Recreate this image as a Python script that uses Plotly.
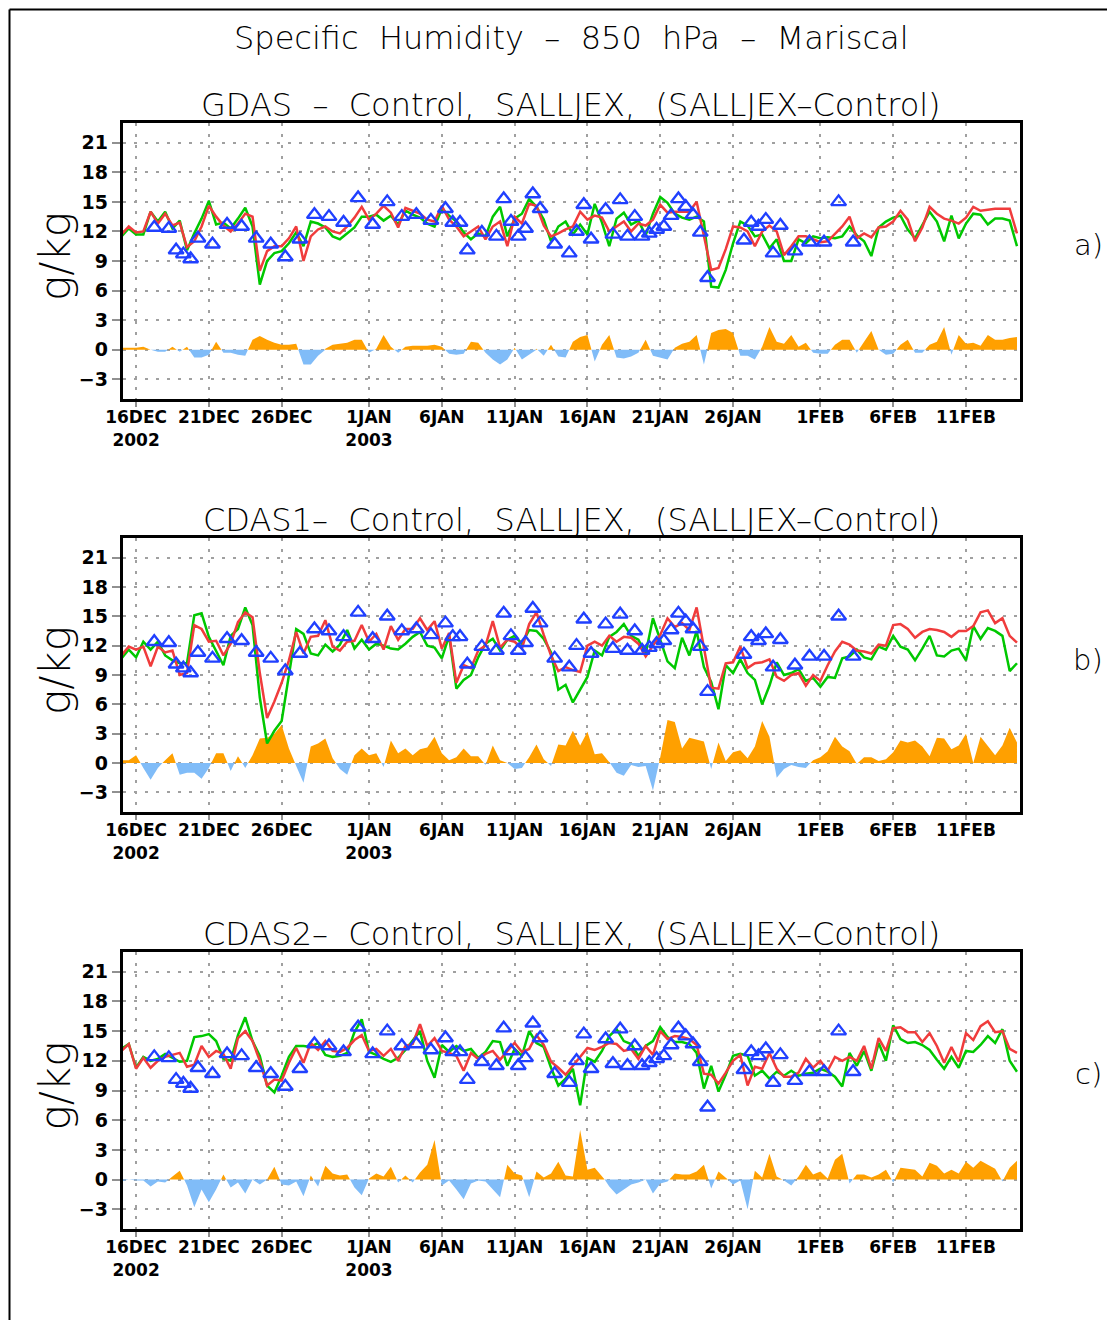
import numpy as np
import pandas as pd
import plotly.graph_objects as go

OFF = 8                      # page body margin
FW, FH = 1115 - OFF, 1328 - 2 * OFF

# ---------------- data ----------------
start = "2002-12-15 00:00"          # 12-hourly analyses
n_times = 124

# GDAS
gdas_salljex = [11.7, 12.5, 11.9, 12.0, 14.0, 12.8, 13.8, 12.6, 12.9, 10.4, 11.0, 12.5, 14.6, 13.5, 12.6, 12.0, 12.8, 13.8, 13.5, 8.0, 10.0, 10.5, 10.5, 11.3, 12.5, 9.0, 11.5, 12.2, 12.5, 12.0, 11.8, 12.5, 13.4, 14.5, 13.2, 13.8, 14.6, 13.9, 12.4, 14.4, 14.1, 13.8, 13.2,
                13.0, 14.6, 13.2, 12.5, 11.5, 12.0, 12.5, 11.2, 12.5, 13.0, 10.5, 13.5, 12.8, 14.8, 14.6, 12.6, 11.5, 11.8, 12.2, 12.5, 14.0, 13.2, 13.6, 13.4, 12.0, 12.5, 13.0, 12.0, 12.8, 12.6, 13.2, 14.7, 13.9, 14.0, 14.0, 14.0, 15.0, 11.5, 8.1, 8.3, 10.2,
                12.5, 12.4, 12.0, 10.5, 12.0, 12.6, 12.0, 9.6, 10.5, 11.5, 11.5, 11.2, 10.9, 11.0, 11.8, 12.5, 13.5, 11.3, 11.8, 11.4, 12.4, 12.5, 13.0, 14.1, 13.2, 11.0, 12.4, 14.5, 13.8, 13.3, 13.1, 12.8, 13.4, 14.5, 14.1, 14.2, 14.3, 14.3, 14.3, 11.8]
gdas_control = [11.5, 12.3, 11.7, 11.7, 14.0, 13.0, 14.0, 12.3, 13.1, 10.1, 11.8, 13.3, 15.1, 12.7, 12.9, 12.3, 13.3, 14.4, 12.5, 6.6, 9.0, 9.8, 10.0, 10.8, 11.9, 10.5, 13.0, 12.8, 12.4, 11.5, 11.2, 11.8, 12.4, 13.5, 13.5, 13.7, 13.1, 13.6, 12.7, 14.1, 13.7, 13.4, 12.8,
                12.5, 14.3, 13.6, 13.0, 11.9, 11.2, 11.8, 11.5, 13.5, 14.5, 11.5, 13.3, 13.8, 15.3, 14.5, 13.2, 11.0, 12.5, 13.0, 11.7, 12.7, 11.7, 14.8, 12.9, 10.5, 13.3, 13.9, 12.7, 13.1, 11.6, 13.8, 15.5, 14.9, 13.8, 13.4, 13.2, 13.5, 13.0, 6.4, 6.3, 8.1,
                10.8, 13.0, 12.6, 11.5, 11.7, 10.3, 11.2, 9.0, 9.0, 11.2, 10.8, 11.5, 11.3, 11.4, 11.3, 11.5, 12.5, 11.6, 11.0, 9.5, 12.4, 13.0, 13.4, 13.6, 12.2, 11.3, 12.7, 14.0, 13.0, 11.0, 13.6, 11.3, 12.8, 13.8, 13.7, 12.7, 13.3, 13.3, 13.1, 10.5]

# CDAS1
cdas1_salljex = [11.0, 11.9, 11.6, 11.9, 9.9, 11.9, 11.3, 11.5, 9.0, 9.2, 14.1, 13.7, 12.4, 12.5, 11.0, 12.2, 14.4, 15.4, 14.9, 9.2, 4.6, 6.3, 8.2, 10.5, 13.4, 11.2, 12.9, 13.0, 14.6, 11.9, 11.5, 12.4, 12.5, 14.1, 12.4, 13.2, 11.6, 14.0, 12.6, 13.7, 13.7, 14.8, 13.6,
                 14.5, 11.7, 13.3, 8.2, 10.0, 9.7, 11.5, 12.0, 14.5, 11.8, 12.6, 12.4, 11.7, 14.2, 15.4, 13.1, 11.0, 9.4, 9.8, 9.5, 9.3, 12.0, 12.4, 12.0, 13.0, 12.4, 12.9, 12.8, 12.2, 10.9, 12.0, 13.1, 14.8, 13.9, 14.3, 13.6, 15.9, 12.0, 7.7, 7.6, 10.2,
                 10.3, 11.9, 9.7, 10.2, 10.3, 10.6, 8.8, 8.4, 9.0, 9.2, 7.9, 9.0, 8.4, 10.0, 11.4, 12.4, 12.1, 11.5, 11.4, 11.2, 12.1, 12.0, 14.1, 14.2, 13.7, 12.8, 13.4, 13.7, 13.6, 13.4, 12.9, 13.5, 13.5, 14.0, 15.4, 15.6, 14.3, 14.8, 13.0, 12.3]
cdas1_control = [10.7, 11.6, 10.8, 12.4, 11.6, 12.4, 11.0, 10.5, 10.2, 10.2, 15.1, 15.3, 12.9, 11.5, 10.0, 13.0, 13.7, 15.9, 14.1, 6.7, 2.0, 3.3, 4.3, 9.0, 13.7, 13.2, 11.2, 11.0, 12.1, 11.4, 12.1, 13.6, 11.7, 12.6, 11.6, 12.2, 12.0, 11.7, 11.6, 12.2, 12.9, 13.4, 12.0,
                 11.8, 10.7, 13.0, 7.6, 8.5, 9.0, 10.8, 12.2, 12.7, 11.5, 12.6, 13.0, 12.2, 13.6, 13.5, 12.7, 11.3, 7.5, 8.0, 6.2, 7.5, 8.8, 11.5, 11.0, 12.9, 13.4, 14.2, 13.0, 12.6, 11.2, 14.8, 12.5, 10.4, 9.7, 12.8, 11.0, 13.5, 9.8, 8.3, 5.5, 10.0,
                 9.2, 10.6, 9.2, 8.5, 6.0, 7.9, 10.3, 9.0, 9.2, 9.6, 8.4, 8.7, 7.8, 8.8, 8.7, 10.7, 10.9, 11.6, 10.8, 10.6, 11.9, 11.6, 13.0, 11.9, 11.6, 10.5, 11.7, 13.0, 11.0, 10.9, 11.5, 11.7, 10.5, 14.0, 12.7, 13.8, 13.5, 13.0, 9.4, 10.2]

# CDAS2
cdas2_salljex = [13.0, 13.7, 11.2, 12.3, 11.3, 12.0, 12.4, 12.6, 12.8, 11.4, 11.6, 13.5, 12.4, 13.0, 12.7, 11.2, 14.3, 15.0, 14.0, 12.0, 9.5, 10.1, 10.0, 11.8, 13.3, 11.8, 13.8, 13.1, 14.0, 13.0, 12.9, 13.3, 14.1, 14.6, 13.0, 13.2, 12.5, 13.2, 12.0, 13.5, 13.7, 15.7, 13.5,
                 14.3, 13.0, 12.8, 12.5, 11.0, 12.8, 12.2, 12.7, 13.0, 12.1, 13.0, 13.8, 12.9, 13.2, 14.6, 13.6, 11.9, 11.3, 10.6, 11.5, 12.5, 13.3, 13.1, 13.4, 13.8, 13.7, 13.0, 13.2, 12.2, 13.5, 12.6, 15.0, 14.2, 14.5, 14.4, 14.2, 13.6, 10.7, 10.6, 9.7, 10.8,
                 12.0, 12.6, 9.5, 11.4, 11.2, 12.8, 11.2, 10.4, 10.4, 10.8, 12.2, 11.3, 12.0, 11.0, 12.4, 12.0, 12.4, 12.0, 13.5, 11.2, 14.3, 13.0, 15.3, 15.4, 14.9, 14.9, 13.9, 14.8, 13.5, 11.8, 13.4, 11.9, 14.8, 14.1, 15.5, 16.0, 14.9, 15.0, 13.2, 12.8]
cdas2_control = [13.2, 13.7, 11.3, 12.4, 12.0, 12.2, 12.7, 12.3, 11.9, 12.0, 14.4, 14.5, 14.7, 14.0, 12.2, 12.0, 14.6, 16.4, 14.0, 12.5, 9.5, 8.8, 10.5, 12.4, 13.5, 13.5, 13.4, 13.8, 12.6, 12.4, 12.5, 12.8, 14.9, 16.2, 12.9, 12.6, 12.2, 11.9, 12.3, 13.1, 14.0, 15.0, 12.0,
                 10.3, 13.6, 12.9, 13.5, 13.0, 13.2, 12.3, 12.9, 14.0, 13.9, 11.5, 13.2, 12.5, 15.0, 13.8, 13.4, 11.3, 9.5, 10.2, 11.2, 7.5, 12.3, 11.9, 13.0, 14.5, 15.2, 14.0, 13.7, 12.5, 13.5, 14.0, 15.4, 14.4, 13.9, 13.9, 13.7, 12.8, 9.2, 11.5, 8.9, 10.6,
                 12.5, 12.7, 12.5, 10.5, 11.0, 10.2, 10.9, 10.5, 11.0, 10.5, 10.7, 10.8, 11.2, 10.9, 10.4, 9.4, 12.8, 11.5, 13.0, 11.0, 13.8, 12.0, 15.6, 14.2, 13.8, 13.9, 13.6, 13.1, 12.1, 11.2, 12.4, 11.3, 13.0, 12.9, 13.6, 14.5, 13.8, 15.2, 12.0, 10.9]

# SALLJEX soundings at Mariscal (days after 16 Dec 2002 00Z)
obs_days = [1.25, 2.25, 2.75, 3.25, 3.75, 4.25, 5.25, 6.25, 7.25, 8.25, 9.25, 10.25, 11.25, 12.25, 13.25,
            14.25, 15.25, 16.25, 17.25, 18.25, 19.25, 20.25, 21.25, 21.75, 22.25, 22.75, 23.75, 24.75, 25.25, 25.75,
            26.25, 26.75, 27.25, 27.75, 28.75, 29.75, 30.25, 30.75, 31.25, 32.25, 32.75, 33.25, 33.75, 34.25, 34.75,
            35.25, 35.75, 36.25, 36.75, 37.25, 37.75, 38.25, 38.75, 39.25, 41.75, 42.25, 42.75, 43.25, 43.75, 44.25,
            45.25, 46.25, 47.25, 48.25, 49.25]
obs_q = [12.4, 12.3, 10.1, 9.7, 9.2, 11.3, 10.7, 12.7, 12.5, 11.3, 10.7, 9.4, 11.2, 13.7, 13.5,
         12.9, 15.4, 12.7, 15.0, 13.5, 13.7, 13.1, 14.3, 12.9, 12.9, 10.1, 11.9, 11.5, 15.3, 13.0,
         11.5, 12.3, 15.8, 14.3, 10.7, 9.8, 12.0, 14.7, 11.2, 14.2, 11.7, 15.2, 11.5, 13.5, 11.5,
         11.8, 12.2, 12.5, 13.6, 15.3, 14.5, 13.7, 11.9, 7.3, 11.1, 12.9, 12.5, 13.2, 9.8, 12.6,
         10.0, 10.9, 10.9, 15.0, 10.9]

tick_dates = ["2002-12-16", "2002-12-21", "2002-12-26", "2003-01-01", "2003-01-06", "2003-01-11",
              "2003-01-16", "2003-01-21", "2003-01-26", "2003-02-01", "2003-02-06", "2003-02-11"]
tick_text = ["16DEC<br>2002", "21DEC", "26DEC", "1JAN<br>2003", "6JAN", "11JAN",
             "16JAN", "21JAN", "26JAN", "1FEB", "6FEB", "11FEB"]
y_ticks = [-3, 0, 3, 6, 9, 12, 15, 18, 21]

panels = [
    ("GDAS  –  Control,  SALLJEX,  (SALLJEX–Control)", gdas_control, gdas_salljex, "a)"),
    ("CDAS1–  Control,  SALLJEX,  (SALLJEX–Control)", cdas1_control, cdas1_salljex, "b)"),
    ("CDAS2–  Control,  SALLJEX,  (SALLJEX–Control)", cdas2_control, cdas2_salljex, "c)"),
]

# ---------------- helpers ----------------
times = pd.date_range(start, periods=n_times, freq="12h")
t0 = pd.Timestamp(start)
hours = np.array([(t - t0) / pd.Timedelta(hours=1) for t in times])
obs_times = pd.Timestamp("2002-12-16") + pd.to_timedelta(obs_days, unit="D")


def split_diff(h, d):
    xs, ds = [], []
    for i in range(len(d)):
        if i > 0 and d[i - 1] * d[i] < 0:
            f = d[i - 1] / (d[i - 1] - d[i])
            xs.append(h[i - 1] + f * (h[i] - h[i - 1]))
            ds.append(0.0)
        xs.append(h[i])
        ds.append(d[i])
    xs = np.array(xs)
    ds = np.array(ds)
    xt = t0 + pd.to_timedelta(xs, unit="h")
    return xt, np.where(ds > 0, ds, 0.0), np.where(ds < 0, ds, 0.0)


def px(x):
    return (x - OFF) / FW


def py(y):
    return 1 - (y - OFF) / FH


boxes = [(123, 399), (538, 812), (952, 1229)]
x_dom = [px(122.7), px(1020)]

fig = go.Figure()
FONT = "DejaVu Sans"
grid_col = "#a0a0a0"

for k, (title, ctrl, sal, lab) in enumerate(panels):
    sfx = "" if k == 0 else str(k + 1)
    xa, ya = "x" + sfx, "y" + sfx
    d = np.array(sal) - np.array(ctrl)
    xt, pos, neg = split_diff(hours, d)
    fig.add_trace(go.Scatter(x=xt, y=pos, xaxis=xa, yaxis=ya, mode="lines", line=dict(width=0, color="#ffa000"),
                             fill="tozeroy", fillcolor="#ffa000", showlegend=False, hoverinfo="skip"))
    fig.add_trace(go.Scatter(x=xt, y=neg, xaxis=xa, yaxis=ya, mode="lines", line=dict(width=0, color="#80bcf8"),
                             fill="tozeroy", fillcolor="#80bcf8", showlegend=False, hoverinfo="skip"))
    fig.add_trace(go.Scatter(x=times, y=ctrl, xaxis=xa, yaxis=ya, mode="lines",
                             line=dict(color="#00c800", width=2.5), showlegend=False))
    fig.add_trace(go.Scatter(x=times, y=sal, xaxis=xa, yaxis=ya, mode="lines",
                             line=dict(color="#f03c3c", width=2.5), showlegend=False))
    fig.add_trace(go.Scatter(x=obs_times, y=obs_q, xaxis=xa, yaxis=ya, mode="markers",
                             marker=dict(symbol="triangle-up-open", size=13, color="#2040ff",
                                         line=dict(width=2.4, color="#2040ff")), showlegend=False))

    top, bot = boxes[k]
    fig.layout["xaxis" + sfx] = dict(
        domain=x_dom, anchor=ya, type="date", automargin=False,
        range=["2002-12-15 02:00", "2003-02-14 17:00"],
        tickvals=tick_dates, ticktext=tick_text, tickmode="array",
        ticks="outside", ticklen=5, tickwidth=2, tickcolor="#909090",
        ticklabelstandoff=-4,
        tickfont=dict(family=FONT, size=17, color="black", weight="bold"),
        showline=True, linecolor="black", linewidth=3, mirror=True,
        showgrid=True, gridcolor=grid_col, gridwidth=2, griddash="3px,8px",
        zeroline=False, fixedrange=True)
    fig.layout["yaxis" + sfx] = dict(
        domain=[py(bot), py(top)], anchor=xa, range=[-5, 23], automargin=False,
        tickvals=y_ticks, tickmode="array",
        ticks="outside", ticklen=8, tickwidth=2, tickcolor="#909090",
        tickfont=dict(family=FONT, size=19, color="black", weight="bold"),
        showline=True, linecolor="black", linewidth=3, mirror=True,
        showgrid=True, gridcolor=grid_col, gridwidth=2, griddash="3px,8px",
        zeroline=False, fixedrange=True)

    fig.add_annotation(text=title, x=px(571), y=py(top - 18), xref="paper", yref="paper",
                       showarrow=False, font=dict(family=FONT, size=32, color="black", weight=200),
                       xanchor="center", yanchor="middle")
    fig.add_annotation(text="g/kg", x=px(55), y=py((top + bot) / 2 - 4), xref="paper", yref="paper",
                       showarrow=False, textangle=-90, font=dict(family=FONT, size=42, color="black", weight=200),
                       xanchor="center", yanchor="middle")
    fig.add_annotation(text=lab, x=px(1088), y=py(top + 122), xref="paper", yref="paper",
                       showarrow=False, font=dict(family=FONT, size=29, color="black", weight=200),
                       xanchor="center", yanchor="middle")

fig.add_annotation(text="Specific  Humidity  –  850  hPa  –  Mariscal", x=px(571), y=py(38),
                   xref="paper", yref="paper", showarrow=False,
                   font=dict(family=FONT, size=32, color="black", weight=200), xanchor="center", yanchor="middle")

# page frame (as close to the page edge as the figure allows)
fig.add_shape(type="line", xref="paper", yref="paper", x0=px(9.5), x1=px(9.5), y0=-0.02, y1=py(9.5),
              line=dict(color="black", width=2))
fig.add_shape(type="line", xref="paper", yref="paper", x0=px(9.5), x1=1.0, y0=py(9.5), y1=py(9.5),
              line=dict(color="black", width=2))

fig.update_layout(width=FW, height=FH, margin=dict(l=0, r=0, t=0, b=0),
                  paper_bgcolor="white", plot_bgcolor="white", showlegend=False)

fig.write_html("out.html")
